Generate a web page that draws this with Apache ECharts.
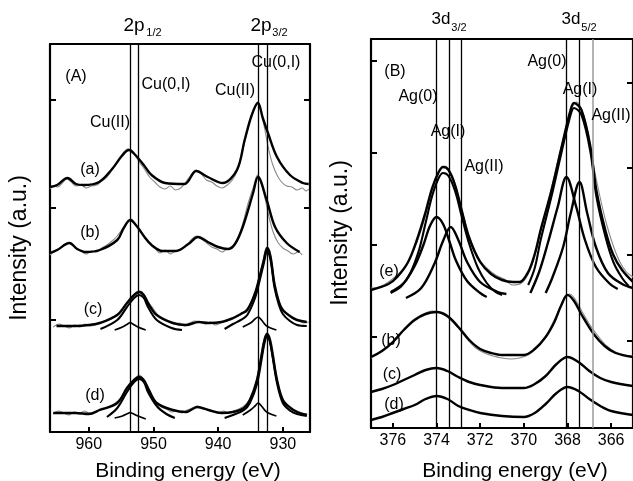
<!DOCTYPE html>
<html><head><meta charset="utf-8">
<script src="https://cdn.jsdelivr.net/npm/echarts@6/dist/echarts.min.js"></script>
<style>html,body{margin:0;padding:0;background:#fff}#c{width:633px;height:481px}</style>
</head><body><div id="c"></div>
<script>
// ---------- Panel A : Cu 2p ----------
const cuTicks = [930, 940, 950, 960];
const cuLines = [953.6, 952.3, 933.8, 932.4];
const cuYTicksL = [112, 224, 332];
const cuYTicksR = [224, 332];

const aFit = [[966,245],[964.9,247],[963.3,254],[962,248],[960.8,247],[958.4,250],[956.4,263],[954.9,276],[953.8,282],[952.8,277],[951.5,267],[950.3,257],[948.2,249],[945.2,248],[943.4,261],[941.6,255],[939.3,249],[937.1,262],[935.9,292],[934.8,317],[933.85,329],[933.1,314],[932.3,299],[930.9,275],[928.9,257],[926.9,249],[926,248]];
const aMeas = [[966,243],[965.4,246],[964.8,245],[964.1,249],[963.4,253],[962.7,250],[962,246],[961.2,247],[960.4,244],[959.6,246],[958.8,247],[958,251],[957.2,255],[956.4,262],[955.6,270],[954.8,278],[954,283],[953.4,282],[952.8,276],[952.2,270],[951.4,263],[950.6,255],[949.8,250],[949,245],[948.2,243],[947.4,246],[946.6,242],[945.8,244],[945,250],[944.2,257],[943.4,262],[942.6,258],[941.8,252],[941,250],[940.2,246],[939.4,244],[938.6,247],[937.8,252],[937,262],[936.2,282],[935.4,303],[934.6,322],[933.9,330],[933.4,322],[932.8,303],[932.2,283],[931.6,268],[930.9,257],[930.2,250],[929.4,246],[928.6,245],[927.8,242],[927,244],[926.4,241],[926,243]];

const bFit = [[966,179],[964.9,182],[963,189],[961.8,183],[960.5,180],[958.3,182],[955.6,192],[954.6,204],[953.6,212],[952.6,206],[951.5,196],[950.3,187],[948.6,181],[946.5,181],[944.6,188],[943.1,195],[941.6,190],[940,185],[938.5,183],[937.4,188],[936.2,205],[934.6,239],[933.85,255],[932.5,232],[931.2,205],[929.4,189],[927.4,180]];
const bMeas = [[966,177],[965.2,181],[964.4,184],[963.6,188],[962.8,189],[962,184],[961.2,181],[960.4,178],[959.6,181],[958.8,180],[958,184],[957.2,187],[956.4,191],[955.6,196],[954.8,203],[954,210],[953.4,213],[952.8,208],[952.2,203],[951.4,195],[950.6,189],[949.8,184],[949,179],[948.2,182],[947.4,178],[946.6,181],[945.8,183],[945,186],[944.2,192],[943.4,196],[942.6,193],[941.8,189],[941,185],[940.2,183],[939.4,180],[938.6,183],[937.8,184],[937,193],[936.2,208],[935.4,228],[934.6,244],[933.9,257],[933.3,248],[932.7,232],[932.1,214],[931.5,200],[930.8,190],[930,184],[929.2,181],[928.4,178],[927.6,180],[927,177]];

const cFit = [[965,106],[962,106],[960,107],[958.3,109],[955.6,117],[954.1,129],[953,137],[952.2,140],[951.5,137],[950.85,129],[949.5,117],[947,109],[945,107],[943,110],[941.5,109],[939.5,110],[937.7,114],[936.5,118],[935.5,122],[934.3,139],[933.6,155],[933,170],[932.4,184],[931.9,175],[931.3,148],[930.6,130],[930,122],[928.9,116],[927.8,112],[926.3,110]];
const cMeas = [[965.5,105],[964.6,108],[963.8,106],[963,104],[962.2,107],[961.4,105],[960.6,108],[959.8,106],[959,107],[958.2,110],[957.4,111],[956.6,114],[955.8,117],[955,122],[954.2,128],[953.4,134],[952.6,140],[952,141],[951.4,137],[950.8,130],[950,123],[949.2,116],[948.4,113],[947.6,110],[946.8,108],[946,109],[945.2,106],[944.4,109],[943.6,111],[942.8,110],[942,108],[941.2,110],[940.4,107],[939.6,109],[938.8,111],[938,112],[937.2,115],[936.4,118],[935.6,123],[934.8,131],[934.2,141],[933.6,157],[933,173],[932.5,185],[932,181],[931.5,160],[931,140],[930.4,127],[929.8,120],[929.2,117],[928.4,113],[927.6,112],[926.8,109],[926,110]];
const cMain1 = [[958.2,103],[955.6,112],[954.1,125],[953,134],[952.2,137],[951.5,134],[950.85,125],[949.5,112],[947.2,104],[945.6,102]];
const cSmall1 = [[956,102],[954.8,105],[954,108],[953.6,109.5],[953.2,108],[952.4,105],[951.2,102]];
const cMain3 = [[939,103],[937.7,108],[936.5,112],[935.5,117],[934.3,134],[933.6,151],[933,167],[932.4,181],[931.9,172],[931.3,145],[930.6,127],[930,118],[928.9,111],[927.8,107],[926.3,106]];
const cSmall3 = [[936.2,105],[935,109],[934.3,113],[933.8,115],[933.3,112],[932.5,106],[931,102]];

const dFit = [[965.5,19],[962,19],[960,18],[958.3,22],[955.6,29],[954.1,44],[953,52],[952.2,55],[951.5,52],[950.85,44],[949.5,29],[947,22],[945,20],[943.2,25],[941.5,22],[939.5,19],[937.7,20],[936,24],[935.1,32],[934,52],[933.2,80],[932.8,93],[932.4,98],[932,92],[931.6,78],[930.9,52],[930,32],[928.8,24],[927.8,20],[926.3,17]];
const dMeas = [[965.5,18],[964.7,21],[963.9,19],[963.1,17],[962.3,20],[961.5,18],[960.7,21],[959.9,19],[959.1,20],[958.3,23],[957.5,24],[956.7,26],[955.9,29],[955.1,34],[954.3,41],[953.5,48],[952.8,54],[952.2,57],[951.6,53],[951,46],[950.3,37],[949.6,30],[948.8,25],[948,23],[947.2,20],[946.4,21],[945.6,19],[944.8,22],[944,24],[943.2,26],[942.4,23],[941.6,22],[940.8,20],[940,19],[939.2,21],[938.4,19],[937.6,21],[936.8,23],[936,26],[935.3,31],[934.6,40],[934,54],[933.5,72],[933,90],[932.5,99],[932,95],[931.5,80],[931,58],[930.5,42],[930,33],[929.4,27],[928.6,23],[927.8,21],[927,19],[926.2,18]];
const dMain1 = [[957.2,15],[955.6,24],[954.1,40],[953,50],[952.2,53],[951.5,50],[950.85,40],[949.5,26],[948,18],[946.7,14]];
const dSmall1 = [[956,14],[954.8,16],[954,18.5],[953.6,19.5],[953.2,18.5],[952.4,16],[951.2,13]];
const dMain3 = [[939,14],[937.7,17],[936,22],[935.1,29],[934,48],[933.2,76],[932.8,90],[932.4,96],[932,90],[931.6,76],[930.9,49],[930,29],[928.8,21],[927.8,18],[926.3,16]];
const dSmall3 = [[936.2,17],[935,22],[934.3,26],[933.8,29],[933.3,26],[932.5,20],[931,16]];

// ---------- Panel B : Ag 3d ----------
const agTicks = [366, 368, 370, 372, 374, 376];
const agLines = [374.0, 373.4, 372.85, 368.05, 367.44];
const agLinesGrey = [366.86];
const agYTicksL = [91, 183, 275, 367];
const agYTicksR = [87, 173, 260, 345];

const eFit = [[377,138],[376.2,144],[375.8,151],[375.3,166],[374.9,188],[374.5,216],[374.2,240],[373.9,256],[373.7,261],[373.45,258],[373.15,243],[372.85,218],[372.5,190],[372,166],[371.5,154],[371,148],[370.5,146],[370.2,146],[369.8,156],[369.5,174],[369.23,198],[368.73,238],[368.27,281],[367.86,318],[367.7,325],[367.36,318],[366.95,281],[366.68,238],[366.27,198],[365.9,173],[365.5,158],[365,146]];
const eMeas = [[377,140],[376.6,141],[376.2,146],[375.8,153],[375.4,163],[375,180],[374.6,205],[374.3,230],[374,250],[373.8,259],[373.6,262],[373.4,257],[373.1,240],[372.8,215],[372.5,192],[372.1,171],[371.7,160],[371.3,153],[370.9,149],[370.5,143],[370.1,145],[369.8,154],[369.5,172],[369.2,200],[368.9,225],[368.6,252],[368.3,280],[368,306],[367.8,320],[367.6,326],[367.4,321],[367.1,300],[366.8,262],[366.5,230],[366.2,203],[365.9,182],[365.6,166],[365.3,156],[365,151]];
const eSumA = [[376.1,135],[375.6,142],[375.2,155],[374.8,178],[374.5,205],[374.2,232],[373.9,250],[373.7,255],[373.45,252],[373.15,237],[372.85,212],[372.5,184],[372.1,160],[371.7,145],[371.3,136],[371,133]];
const eSumB = [[369.8,143],[369.5,160],[369.23,188],[368.73,232],[368.27,276],[367.86,313],[367.7,320],[367.36,313],[366.95,276],[366.68,232],[366.27,192],[365.9,166],[365.5,150],[365.2,142]];
const eAg0a = [[376.1,136],[375.5,145],[375,162],[374.6,183],[374.3,202],[374,211],[373.7,204],[373.4,186],[373.1,167],[372.6,147],[372,135],[371.7,131]];
const eAg1a = [[375.4,130],[374.7,140],[374.1,164],[373.7,187],[373.35,201],[373,188],[372.6,166],[372,146],[371.2,136],[370.8,134]];
const eAg0b = [[369.7,135],[369.3,156],[368.9,185],[368.45,221],[368.05,251],[367.6,221],[367.2,188],[366.7,161],[366.1,145],[365.7,139]];
const eAg1b = [[369,135],[368.7,150],[368.2,181],[367.85,215],[367.45,246],[367.1,215],[366.7,181],[366.15,155],[365.5,144],[365,140]];

const bAgFit = [[377,71],[376.5,77],[376,86],[375.5,98],[375,108],[374.5,114],[374,116],[373.5,112],[373,101],[372.5,88],[372,79],[371.5,75],[371,73],[370,73],[369.5,79],[369,91],[368.6,106],[368.3,122],[368,133],[367.7,127],[367.35,113],[366.8,94],[366.3,82],[365.8,75],[365,71]];
const bAgMeas = [[377,70],[376.6,75],[376.2,81],[375.8,90],[375.4,101],[375,109],[374.6,114],[374.2,117],[373.8,115],[373.4,109],[373,100],[372.6,89],[372.2,80],[371.8,75],[371.4,72],[371,70],[370.6,69],[370.2,70],[369.8,73],[369.4,80],[369,92],[368.7,104],[368.4,118],[368.1,131],[367.9,134],[367.6,127],[367.3,115],[367,104],[366.6,92],[366.2,82],[365.8,76],[365.4,73],[365,72]];
const cAgFit = [[377,36],[376.5,39],[376,43],[375.5,48],[375,53],[374.5,58],[374,60],[373.5,57],[373,51],[372.5,46],[372,43],[371,40],[370,40],[369.5,44],[369,52],[368.5,64],[368,71],[367.5,66],[367,57],[366.5,50],[366,46],[365,42]];
const dAgFit = [[377,8],[376.5,11],[376,15],[375.5,19],[375,23],[374.5,29],[374,32],[373.5,29],[373,22],[372.5,18],[372,15],[371,12],[370,11],[369.5,15],[369,24],[368.5,35],[368,41],[367.5,37],[367,29],[366.5,22],[366,17],[365,13]];

// ---------- chart ----------
const FONT = 'Arial, "Liberation Sans", sans-serif';
const chart = echarts.init(document.getElementById('c'), null, {renderer: 'canvas'});

function line(data, xi, yi, color, width, z) {
  return {type: 'line', xAxisIndex: xi, yAxisIndex: yi, data: data, showSymbol: false, symbol: 'none',
    smooth: 0.35, silent: true, z: z || 3, lineStyle: {color: color, width: width}};
}
function xAx(grid, min, max, pos, ticks) {
  const show = !!ticks;
  return {gridIndex: grid, type: 'value', min: min, max: max, inverse: true, position: pos,
    axisLine: {onZero: false, lineStyle: {color: '#000', width: 2.2}},
    axisTick: {show: show, inside: true, length: 5, lineStyle: {color: '#000', width: 2}, customValues: ticks || []},
    axisLabel: {show: show, customValues: ticks || [], color: '#000', fontSize: 16, fontFamily: FONT, margin: 5},
    splitLine: {show: false}};
}
function yAx(grid, max, pos, ticks) {
  return {gridIndex: grid, type: 'value', min: 0, max: max, position: pos,
    axisLine: {onZero: false, lineStyle: {color: '#000', width: 2.2}},
    axisTick: {show: true, inside: true, length: 6, lineStyle: {color: '#000', width: 2}, customValues: ticks},
    axisLabel: {show: false}, splitLine: {show: false}};
}
function txt(x, y, s, size, extra) {
  return Object.assign({type: 'text', x: x, y: y, silent: true, z: 100,
    style: {text: s, font: size + 'px ' + FONT, fill: '#000', align: 'center', verticalAlign: 'middle'}}, extra || {});
}

const W = 2.4, WC = 2.1, WS = 1.7;
const series = [
  line(aMeas, 0, 0, '#888', 1.1, 2), line(bMeas, 0, 0, '#888', 1.1, 2), line(cMeas, 0, 0, '#888', 1.1, 2), line(dMeas, 0, 0, '#888', 1.1, 2),
  line(aFit, 0, 0, '#000', W), line(bFit, 0, 0, '#000', W), line(cFit, 0, 0, '#000', W), line(dFit, 0, 0, '#000', W),
  line(cMain1, 0, 0, '#000', WC), line(cSmall1, 0, 0, '#000', WS), line(cMain3, 0, 0, '#000', WC), line(cSmall3, 0, 0, '#000', WS),
  line(dMain1, 0, 0, '#000', WC), line(dSmall1, 0, 0, '#000', WS), line(dMain3, 0, 0, '#000', WC), line(dSmall3, 0, 0, '#000', WS),
  line(eMeas, 2, 2, '#888', 1.1, 2), line(bAgMeas, 2, 2, '#888', 1.1, 2),
  line(eFit, 2, 2, '#000', W), line(eSumA, 2, 2, '#000', WC), line(eSumB, 2, 2, '#000', WC),
  line(eAg0a, 2, 2, '#000', W), line(eAg1a, 2, 2, '#000', W), line(eAg0b, 2, 2, '#000', W), line(eAg1b, 2, 2, '#000', W),
  line(bAgFit, 2, 2, '#000', W), line(cAgFit, 2, 2, '#000', W), line(dAgFit, 2, 2, '#000', W)
];
// vertical reference lines
series.push({type: 'line', xAxisIndex: 0, yAxisIndex: 0, data: [], silent: true,
  markLine: {symbol: 'none', silent: true, animation: false, label: {show: false},
    lineStyle: {color: '#000', width: 1.3, type: 'solid'}, data: cuLines.map(v => ({xAxis: v}))}});
series.push({type: 'line', xAxisIndex: 2, yAxisIndex: 2, data: [], silent: true,
  markLine: {symbol: 'none', silent: true, animation: false, label: {show: false},
    lineStyle: {color: '#000', width: 1.3, type: 'solid'},
    data: agLines.map(v => ({xAxis: v})).concat(agLinesGrey.map(v => ({xAxis: v, lineStyle: {color: '#999', width: 1.5}})))}});

const option = {
  animation: false,
  backgroundColor: '#fff',
  grid: [
    {left: 50, top: 44, width: 260, height: 388},
    {left: 371, top: 39, width: 265, height: 389}
  ],
  xAxis: [
    xAx(0, 925.8, 966, 'bottom', cuTicks), xAx(0, 925.8, 966, 'top', null),
    xAx(1, 365, 377, 'bottom', agTicks), xAx(1, 365, 377, 'top', null)
  ],
  yAxis: [
    yAx(0, 388, 'left', cuYTicksL), yAx(0, 388, 'right', cuYTicksR),
    yAx(1, 389, 'left', agYTicksL), yAx(1, 389, 'right', agYTicksR)
  ],
  series: series,
  graphic: [
    // panel A
    txt(134, 26, '2p', 19), txt(154, 33, '1/2', 11),
    txt(261, 26, '2p', 19), txt(280, 33, '3/2', 11),
    txt(76, 77, '(A)', 16),
    txt(110, 123, 'Cu(II)', 16), txt(166, 85, 'Cu(0,I)', 16),
    txt(235, 91, 'Cu(II)', 16), txt(276, 63, 'Cu(0,I)', 16),
    txt(90, 170, '(a)', 16), txt(90, 233, '(b)', 16), txt(93, 310, '(c)', 16), txt(95, 396, '(d)', 16),
    txt(188, 471, 'Binding energy (eV)', 21),
    txt(20, 248, 'Intensity (a.u.)', 23, {rotation: Math.PI / 2}),
    // panel B
    txt(441, 19, '3d', 17), txt(459, 28, '3/2', 11),
    txt(571, 19, '3d', 17), txt(589, 28, '5/2', 11),
    txt(395, 72, '(B)', 16),
    txt(418, 97, 'Ag(0)', 16), txt(448, 132, 'Ag(I)', 16), txt(484, 167, 'Ag(II)', 16),
    txt(547, 62, 'Ag(0)', 16), txt(580, 90, 'Ag(I)', 16), txt(611, 116, 'Ag(II)', 16),
    txt(389, 272, '(e)', 16), txt(391, 341, '(b)', 16), txt(392, 375, '(c)', 16), txt(394, 405, '(d)', 16),
    txt(515, 471, 'Binding energy (eV)', 21),
    txt(341, 233, 'Intensity (a.u.)', 23, {rotation: Math.PI / 2})
  ]
};
chart.setOption(option);
</script>
</body></html>
